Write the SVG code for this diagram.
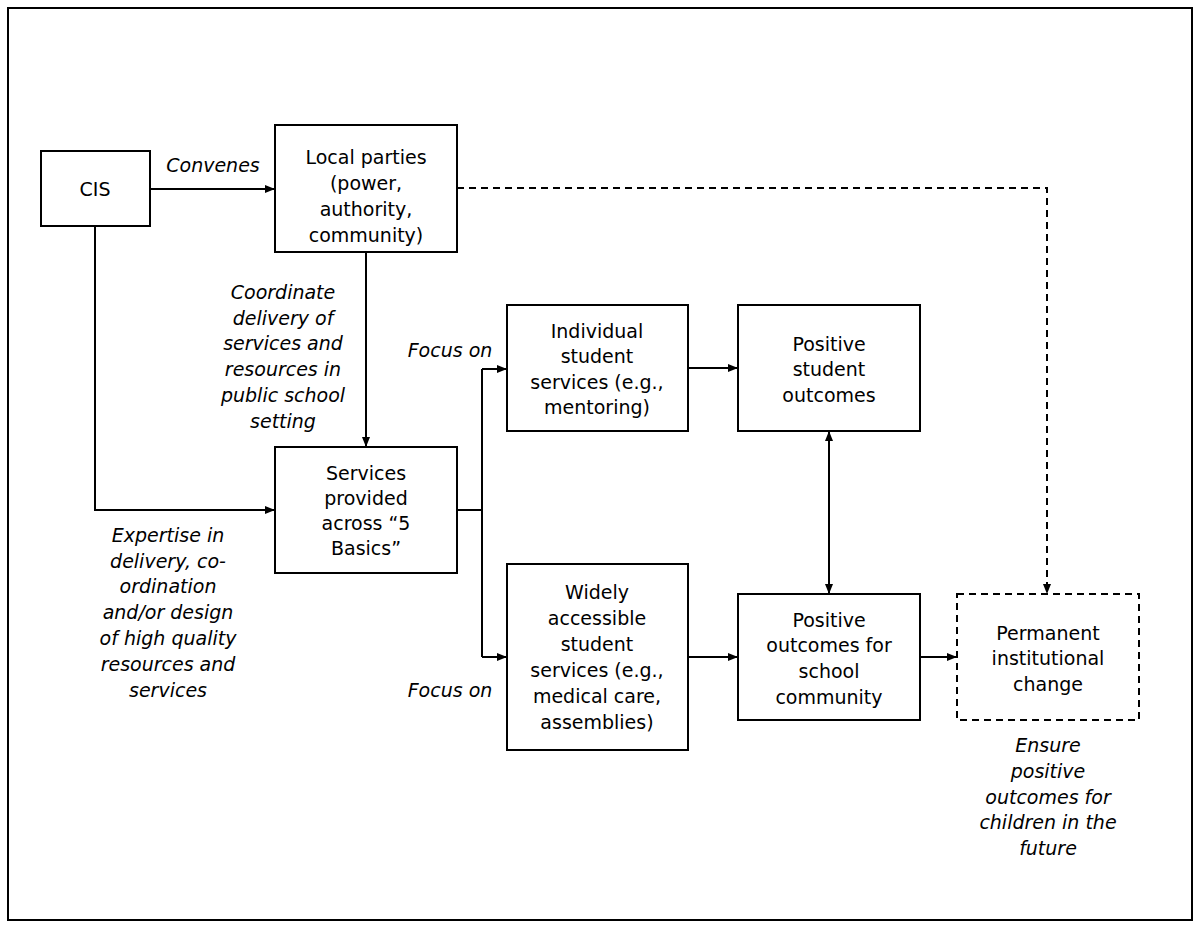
<svg xmlns="http://www.w3.org/2000/svg" width="1200" height="927" viewBox="0 0 1200 927">
<style>
text{font-family:"DejaVu Sans",Verdana,sans-serif;font-size:19px;fill:#000;text-anchor:middle}
.i{font-style:italic}
.b{fill:#fff;stroke:#000;stroke-width:2}
.d{stroke-dasharray:7,5}
.c{fill:none;stroke:#000;stroke-width:2}
</style>
<defs><marker id="a" markerWidth="10" markerHeight="10" refX="9" refY="5" orient="auto-start-reverse" markerUnits="userSpaceOnUse"><path d="M0,1 L10,5 L0,9 z" fill="#000"/></marker></defs>
<rect x="0" y="0" width="1200" height="927" fill="#fff"/>
<rect x="8" y="8" width="1184" height="912" class="c"/>
<g id="connectors">
<path class="c" d="M150,189 H274" marker-end="url(#a)"/>
<path class="c" d="M95,226 V510 H274" marker-end="url(#a)"/>
<path class="c" d="M366,252 V446" marker-end="url(#a)"/>
<path class="c d" d="M457,188 H1047 V593" marker-end="url(#a)"/>
<path class="c" d="M457,510 H482"/>
<path class="c" d="M482,369 V657"/>
<path class="c" d="M482,369 H506" marker-end="url(#a)"/>
<path class="c" d="M482,657 H506" marker-end="url(#a)"/>
<path class="c" d="M688,368 H737" marker-end="url(#a)"/>
<path class="c" d="M688,657 H737" marker-end="url(#a)"/>
<path class="c" d="M829,432 V593" marker-start="url(#a)" marker-end="url(#a)"/>
<path class="c" d="M920,657 H956" marker-end="url(#a)"/>
<text class="i" x="213" y="172">Convenes</text>
<text class="i"><tspan x="283" y="299">Coordinate</tspan><tspan x="283" y="325">delivery of</tspan><tspan x="283" y="350">services and</tspan><tspan x="283" y="376">resources in</tspan><tspan x="283" y="402">public school</tspan><tspan x="283" y="428">setting</tspan></text>
<text class="i" x="450" y="357">Focus on</text>
<text class="i" x="450" y="697">Focus on</text>
<text class="i"><tspan x="168" y="542">Expertise in</tspan><tspan x="168" y="568">delivery, co-</tspan><tspan x="168" y="593">ordination</tspan><tspan x="168" y="619">and/or design</tspan><tspan x="168" y="645">of high quality</tspan><tspan x="168" y="671">resources and</tspan><tspan x="168" y="697">services</tspan></text>
<text class="i"><tspan x="1048" y="752">Ensure</tspan><tspan x="1048" y="778">positive</tspan><tspan x="1048" y="804">outcomes for</tspan><tspan x="1048" y="829">children in the</tspan><tspan x="1048" y="855">future</tspan></text>
</g>
<g id="cis"><rect class="b" x="41" y="151" width="109" height="75"/><text x="95" y="196">CIS</text></g>
<g id="local"><rect class="b" x="275" y="125" width="182" height="127"/><text><tspan x="366" y="164">Local parties</tspan><tspan x="366" y="190">(power,</tspan><tspan x="366" y="216">authority,</tspan><tspan x="366" y="242">community)</tspan></text></g>
<g id="services"><rect class="b" x="275" y="447" width="182" height="126"/><text><tspan x="366" y="480">Services</tspan><tspan x="366" y="505">provided</tspan><tspan x="366" y="530">across “5</tspan><tspan x="366" y="555">Basics”</tspan></text></g>
<g id="individual"><rect class="b" x="507" y="305" width="181" height="126"/><text><tspan x="597" y="338">Individual</tspan><tspan x="597" y="363">student</tspan><tspan x="597" y="389">services (e.g.,</tspan><tspan x="597" y="414">mentoring)</tspan></text></g>
<g id="posstudent"><rect class="b" x="738" y="305" width="182" height="126"/><text><tspan x="829" y="351">Positive</tspan><tspan x="829" y="376">student</tspan><tspan x="829" y="402">outcomes</tspan></text></g>
<g id="widely"><rect class="b" x="507" y="564" width="181" height="186"/><text><tspan x="597" y="599">Widely</tspan><tspan x="597" y="625">accessible</tspan><tspan x="597" y="651">student</tspan><tspan x="597" y="677">services (e.g.,</tspan><tspan x="597" y="703">medical care,</tspan><tspan x="597" y="729">assemblies)</tspan></text></g>
<g id="posschool"><rect class="b" x="738" y="594" width="182" height="126"/><text><tspan x="829" y="627">Positive</tspan><tspan x="829" y="652">outcomes for</tspan><tspan x="829" y="678">school</tspan><tspan x="829" y="704">community</tspan></text></g>
<g id="permanent"><rect class="b d" x="957" y="594" width="182" height="126"/><text><tspan x="1048" y="640">Permanent</tspan><tspan x="1048" y="665">institutional</tspan><tspan x="1048" y="691">change</tspan></text></g>
</svg>
